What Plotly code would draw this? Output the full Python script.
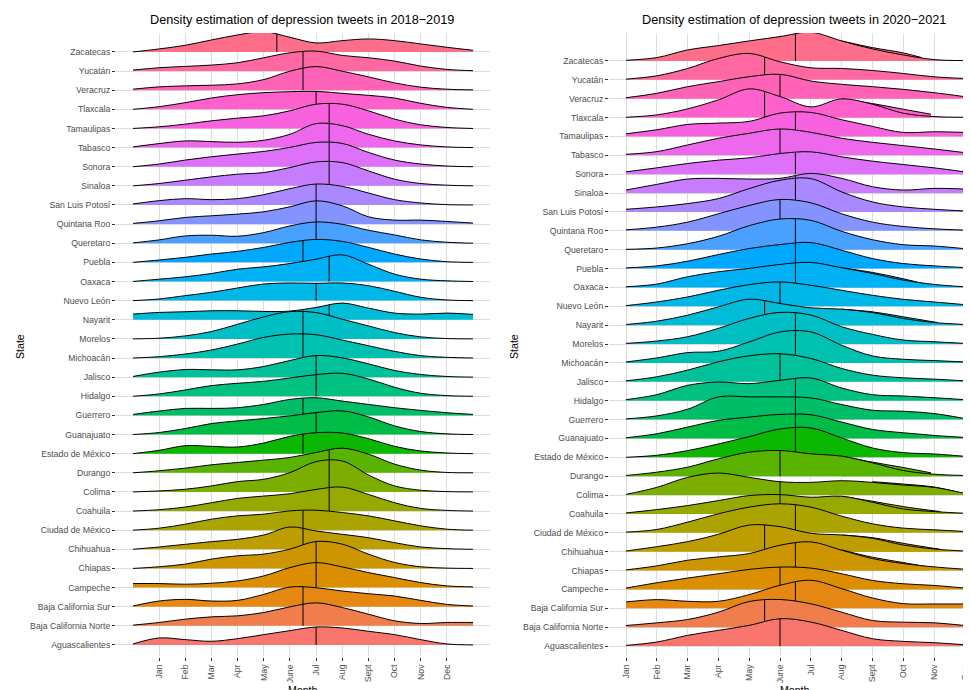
import math
import plotly.graph_objects as go

# ---------------- data ----------------
states = ["Aguascalientes", "Baja California Norte", "Baja California Sur", "Campeche",
          "Chiapas", "Chihuahua", "Ciudad de México", "Coahuila", "Colima", "Durango",
          "Estado de México", "Guanajuato", "Guerrero", "Hidalgo", "Jalisco", "Michoacán",
          "Morelos", "Nayarit", "Nuevo León", "Oaxaca", "Puebla", "Queretaro",
          "Quintana Roo", "San Luis Potosí", "Sinaloa", "Sonora", "Tabasco", "Tamaulipas",
          "Tlaxcala", "Veracruz", "Yucatán", "Zacatecas"]

month_ticks = [1, 2, 3, 4, 5, 6, 7, 8, 9, 10, 11, 12]
month_labels = ["Jan", "Feb", "Mar", "Apr", "May", "June", "Jul", "Aug", "Sept", "Oct", "Nov", "Dec"]

# 2018-2019: relative density read at month positions 0..13
x_2018 = [0, 1, 2, 3, 4, 5, 6, 7, 8, 9, 10, 11, 12, 13]
dens_2018 = [
    [3, 21, 16, 11, 19, 31, 43, 54, 51, 41, 31, 16, 3, 0],
    [2, 10, 20, 27, 30, 40, 57, 69, 55, 35, 15, 7, 10, 10],
    [2, 17, 22, 17, 19, 37, 59, 57, 47, 39, 32, 19, 7, 2],
    [12, 12, 10, 13, 20, 35, 60, 75, 62, 45, 30, 15, 5, 2],
    [0, 5, 13, 28, 38, 43, 58, 81, 73, 43, 18, 5, 1, 0],
    [0, 7, 15, 23, 30, 43, 67, 55, 45, 35, 20, 7, 2, 0],
    [0, 6, 18, 33, 43, 48, 58, 60, 53, 43, 28, 13, 3, 0],
    [0, 4, 12, 25, 38, 45, 52, 65, 72, 50, 25, 8, 2, 0],
    [0, 3, 8, 18, 31, 38, 58, 91, 93, 51, 18, 5, 1, 0],
    [0, 6, 14, 24, 31, 38, 46, 61, 74, 56, 26, 8, 1, 0],
    [0, 10, 24, 22, 20, 32, 52, 63, 62, 45, 22, 8, 2, 0],
    [0, 6, 18, 33, 41, 48, 56, 66, 71, 53, 26, 9, 2, 0],
    [3, 13, 21, 21, 23, 33, 48, 53, 43, 33, 23, 15, 8, 3],
    [0, 7, 19, 32, 39, 45, 55, 65, 69, 52, 27, 9, 2, 0],
    [2, 15, 23, 22, 22, 32, 50, 65, 58, 40, 20, 8, 2, 0],
    [0, 4, 12, 24, 42, 62, 72, 70, 54, 37, 20, 7, 2, 0],
    [0, 2, 9, 22, 44, 66, 82, 79, 59, 39, 19, 6, 1, 0],
    [17, 22, 24, 27, 27, 25, 26, 37, 50, 35, 20, 17, 20, 16],
    [0, 5, 15, 25, 38, 50, 53, 52, 53, 45, 28, 10, 2, 0],
    [0, 7, 14, 24, 37, 44, 54, 67, 80, 52, 22, 7, 2, 0],
    [0, 7, 15, 25, 33, 45, 60, 69, 63, 45, 25, 10, 2, 0],
    [1, 10, 22, 24, 21, 32, 52, 64, 57, 39, 25, 10, 3, 0],
    [2, 10, 20, 25, 30, 37, 52, 70, 55, 22, 12, 12, 8, 3],
    [3, 13, 19, 16, 19, 31, 49, 63, 56, 36, 16, 6, 1, 0],
    [0, 7, 17, 27, 35, 40, 55, 72, 70, 45, 20, 7, 2, 0],
    [0, 8, 20, 30, 38, 46, 58, 73, 70, 43, 20, 8, 2, 0],
    [2, 12, 20, 18, 16, 22, 40, 72, 66, 40, 20, 8, 2, 0],
    [0, 5, 13, 23, 31, 38, 53, 73, 73, 53, 28, 11, 3, 0],
    [0, 8, 20, 34, 44, 50, 53, 54, 48, 42, 34, 18, 6, 0],
    [3, 10, 13, 15, 19, 32, 57, 71, 57, 40, 22, 9, 3, 1],
    [3, 10, 14, 18, 25, 40, 55, 60, 47, 40, 30, 15, 5, 1],
    [0, 9, 20, 36, 51, 61, 44, 27, 34, 39, 34, 24, 14, 5],
]
median_2018 = [7.0, 6.5, 6.5, 7.0, 7.0, 6.5, 6.5, 7.5, 7.5, 7.5, 6.5, 7.0, 6.5, 7.0, 7.0, 6.5,
               6.5, 7.5, 7.0, 7.5, 6.5, 7.0, 7.0, 7.0, 7.5, 7.5, 7.5, 7.5, 7.0, 6.5, 6.5, 5.5]

# 2020-2021: relative density read at months 1..12
x_2020 = [1, 2, 3, 4, 5, 6, 7, 8, 9, 10, 11, 12]
dens_2020 = [
    [2, 12, 32, 47, 62, 82, 72, 47, 22, 14, 10, 4],
    [5, 13, 23, 45, 77, 83, 70, 45, 20, 15, 13, 5],
    [19, 26, 21, 21, 41, 69, 84, 59, 31, 14, 13, 13],
    [4, 20, 34, 47, 60, 67, 64, 47, 27, 17, 12, 4],
    [2, 14, 31, 41, 51, 76, 86, 61, 36, 21, 11, 4],
    [2, 15, 30, 52, 80, 75, 55, 50, 40, 20, 8, 2],
    [2, 10, 32, 57, 77, 87, 77, 50, 27, 14, 9, 4],
    [3, 13, 25, 40, 55, 58, 50, 53, 35, 15, 7, 2],
    [2, 23, 53, 66, 53, 40, 38, 43, 38, 30, 23, 5],
    [2, 12, 27, 52, 72, 77, 67, 60, 40, 17, 6, 2],
    [0, 6, 20, 40, 62, 85, 88, 58, 28, 14, 10, 3],
    [2, 14, 34, 54, 64, 72, 71, 49, 27, 17, 9, 3],
    [2, 11, 31, 68, 68, 68, 65, 45, 28, 25, 18, 3],
    [3, 18, 46, 56, 51, 61, 68, 38, 18, 14, 9, 3],
    [3, 15, 35, 60, 78, 84, 70, 40, 20, 12, 8, 3],
    [3, 15, 31, 35, 63, 93, 93, 53, 21, 11, 7, 3],
    [2, 9, 22, 47, 77, 95, 87, 52, 29, 12, 7, 2],
    [2, 12, 30, 55, 78, 65, 52, 48, 38, 20, 8, 2],
    [2, 13, 28, 48, 65, 73, 63, 48, 33, 21, 13, 5],
    [2, 10, 32, 47, 57, 69, 75, 59, 42, 22, 9, 2],
    [2, 8, 22, 42, 60, 72, 78, 55, 30, 15, 8, 3],
    [1, 5, 18, 40, 72, 92, 88, 55, 30, 15, 11, 3],
    [3, 11, 26, 51, 76, 94, 84, 51, 26, 13, 6, 2],
    [8, 15, 25, 40, 70, 95, 100, 60, 30, 15, 8, 3],
    [9, 26, 42, 44, 42, 44, 59, 44, 19, 9, 14, 12],
    [7, 19, 32, 42, 49, 62, 67, 52, 39, 29, 19, 7],
    [3, 11, 31, 51, 66, 79, 69, 51, 39, 29, 19, 8],
    [8, 20, 36, 40, 45, 70, 72, 50, 30, 12, 14, 12],
    [1, 8, 26, 53, 86, 63, 32, 56, 40, 13, 3, 1],
    [3, 16, 36, 51, 66, 73, 53, 43, 36, 28, 18, 6],
    [2, 12, 34, 64, 79, 54, 36, 34, 28, 19, 9, 4],
    [2, 10, 33, 46, 60, 73, 86, 60, 36, 18, 4, 1],
]
median_2020 = [6.0, 5.5, 6.5, 6.0, 6.5, 5.5, 6.5, 6.0, 6.0, 6.0, 6.5, 6.5, 6.5, 6.5, 6.0, 6.5,
               6.5, 5.5, 6.0, 6.5, 6.5, 6.5, 6.0, 6.5, 6.5, 6.5, 6.0, 6.5, 5.5, 6.0, 5.5, 6.5]

# second (shorter) density tails visible in the 2020-2021 panel
tail_states_2020 = ["Zacatecas", "Tlaxcala", "Oaxaca", "Nayarit", "Durango",
                    "Colima", "Coahuila", "Chihuahua", "Chiapas"]
tail_x_2020 = [
    [8, 9, 10, 10.6],
    [8, 9, 10, 10.9],
    [8, 9, 10, 10.75],
    [8, 9, 10, 11.1],
    [8, 9, 10, 10.9],
    [9, 10, 11, 11.8],
    [8, 9, 10, 11.2],
    [8, 9, 10, 11.2],
    [8, 9, 10, 10.85],
]
tail_dens_2020 = [
    [60, 40, 24, 10],
    [56, 42, 25, 10],
    [59, 45, 26, 9],
    [48, 40, 25, 8],
    [60, 42, 26, 10],
    [40, 33, 24, 8],
    [53, 38, 22, 7],
    [50, 42, 25, 7],
    [62, 40, 24, 10],
]

# ---------------- styling / layout constants ----------------
# the page body adds an 8px margin; all pixel positions below are page pixels
OFF = 8
W, H = 971 - OFF, 690 - OFF
PANEL_TOP, PANEL_BOT = 33, 657
L_X0, L_X1 = 116, 490
R_X0, R_X1 = 609, 971
XR_L = [-0.65, 13.65]
YR_L = [-0.63, 31.99]
XR_R = [0.448, 12.2]
YR_R = [-0.58, 32.48]
SCALE_L = 1 / 57.5   # rows per density unit
SCALE_R = 1 / 56.6
FONT = "Liberation Sans, Arial, Helvetica, sans-serif"
GRID = "#DCDCDC"
TXT = "#4D4D4D"


def px_x(p):
    return (p - OFF) / W


def px_y(p):
    return 1 - (p - OFF) / H


def hcl_hex(h, c=100.0, l=65.0):
    hr = math.radians(h)
    U, V = c * math.cos(hr), c * math.sin(hr)
    Y = ((l + 16) / 116) ** 3 if l > 7.999592 else l / 903.3
    u = U / (13 * l) + 0.1978398
    v = V / (13 * l) + 0.4683363
    X = 9.0 * Y * u / (4 * v)
    Z = -X / 3 - 5 * Y + 3 * Y / v

    def g(t):
        t = 1.055 * t ** (1 / 2.4) - 0.055 if t > 0.00304 else 12.92 * t
        return min(1.0, max(0.0, t))
    r = g(3.240479 * X - 1.537150 * Y - 0.498535 * Z)
    gg = g(-0.969256 * X + 1.875992 * Y + 0.041556 * Z)
    b = g(0.055648 * X - 0.204043 * Y + 1.057311 * Z)
    return "#%02X%02X%02X" % (int(255 * r + 0.5), int(255 * gg + 0.5), int(255 * b + 0.5))


n = len(states)
colors = [hcl_hex(15 + 360.0 * i / n) for i in range(n)]


# plotly's spline (smoothopen) evaluated in pixel space to find curve height at the median
def _tangent(p0, p1, p2, s=1.0):
    d1x, d1y = p0[0] - p1[0], p0[1] - p1[1]
    d2x, d2y = p2[0] - p1[0], p2[1] - p1[1]
    d1a = (d1x * d1x + d1y * d1y) ** 0.25
    d2a = (d2x * d2x + d2y * d2y) ** 0.25
    numx = (d2a * d2a * d1x - d1a * d1a * d2x) * s
    numy = (d2a * d2a * d1y - d1a * d1a * d2y) * s
    den1 = 3 * d2a * (d1a + d2a)
    den2 = 3 * d1a * (d1a + d2a)
    return ((p1[0] + (numx / den1 if den1 else 0), p1[1] + (numy / den1 if den1 else 0)),
            (p1[0] - (numx / den2 if den2 else 0), p1[1] - (numy / den2 if den2 else 0)))


def spline_height(xs, ys, xq, sx, sy):
    pts = [(x * sx, y * sy) for x, y in zip(xs, ys)]
    m = len(pts)
    tans = [_tangent(pts[i - 1], pts[i], pts[i + 1]) for i in range(1, m - 1)]

    def q2c(a, q, b):
        return (a, (a[0] + 2 / 3 * (q[0] - a[0]), a[1] + 2 / 3 * (q[1] - a[1])),
                (b[0] + 2 / 3 * (q[0] - b[0]), b[1] + 2 / 3 * (q[1] - b[1])), b)
    segs = [q2c(pts[0], tans[0][0], pts[1])]
    for i in range(2, m - 1):
        segs.append((pts[i - 1], tans[i - 2][1], tans[i - 1][0], pts[i]))
    segs.append(q2c(pts[m - 2], tans[m - 3][1], pts[m - 1]))
    xp = xq * sx

    def bez(sg, t, k):
        mt = 1 - t
        return (mt ** 3 * sg[0][k] + 3 * mt * mt * t * sg[1][k] +
                3 * mt * t * t * sg[2][k] + t ** 3 * sg[3][k])
    for sg in segs:
        if sg[0][0] <= xp <= sg[3][0]:
            lo, hi = 0.0, 1.0
            for _ in range(60):
                mid = (lo + hi) / 2
                if bez(sg, mid, 0) < xp:
                    lo = mid
                else:
                    hi = mid
            return bez(sg, (lo + hi) / 2, 1) / sy
    return 0.0


fig = go.Figure()


def add_ridge(xs, hs, base, color, xa, ya, scale):
    top = [base + h * scale for h in hs]
    fig.add_trace(go.Scatter(x=xs, y=[base] * len(xs), mode="lines",
                             line=dict(width=0, color="rgba(0,0,0,0)"),
                             hoverinfo="skip", showlegend=False, xaxis=xa, yaxis=ya))
    fig.add_trace(go.Scatter(x=xs, y=top, mode="lines", fill="tonexty", fillcolor=color,
                             line=dict(color="black", width=1, shape="spline", simplify=False),
                             hoverinfo="skip", showlegend=False, xaxis=xa, yaxis=ya))
    return top


def panel(xs, dens, medians, scale, xa, ya, xr, yr, px0, px1, tails=None):
    sx = (px1 - px0) / (xr[1] - xr[0])
    sy = (PANEL_BOT - PANEL_TOP) / (yr[1] - yr[0])
    for i in range(n - 1, -1, -1):
        base = i
        if tails and states[i] in tails[0]:
            k = tails[0].index(states[i])
            add_ridge(tails[1][k], tails[2][k], base, colors[i], xa, ya, scale)
        top = add_ridge(xs, dens[i], base, colors[i], xa, ya, scale)
        hm = spline_height(xs, top, medians[i], sx, sy)
        fig.add_trace(go.Scatter(x=[medians[i], medians[i]], y=[base, hm], mode="lines",
                                 line=dict(color="black", width=1),
                                 hoverinfo="skip", showlegend=False, xaxis=xa, yaxis=ya))


panel(x_2018, dens_2018, median_2018, SCALE_L, "x", "y", XR_L, YR_L, L_X0, L_X1)
panel(x_2020, dens_2020, median_2020, SCALE_R, "x2", "y2", XR_R, YR_R, R_X0, R_X1,
      tails=(tail_states_2020, tail_x_2020, tail_dens_2020))

ydom = [px_y(PANEL_BOT), px_y(PANEL_TOP)]
xcommon = dict(tickmode="array", tickvals=month_ticks, ticktext=month_labels, tickangle=-90,
               showgrid=True, gridcolor=GRID, gridwidth=1, zeroline=False, showline=False,
               ticks="outside", ticklen=3, tickcolor="#333333", tickwidth=1,
               tickfont=dict(family=FONT, size=8.7, color=TXT))
ycommon = dict(tickmode="array", tickvals=list(range(n)), ticktext=states,
               showgrid=True, gridcolor=GRID, gridwidth=1, zeroline=False, showline=False,
               ticks="outside", ticklen=3, tickcolor="#333333", tickwidth=1,
               tickfont=dict(family=FONT, size=8.7, color=TXT))


def ann(text, x, y, size, angle=0, yanchor="middle"):
    return dict(text=text, x=px_x(x), y=px_y(y), xref="paper", yref="paper", showarrow=False,
                xanchor="center", yanchor=yanchor, textangle=angle,
                font=dict(family=FONT, size=size, color="black"))


fig.update_layout(
    width=W, height=H,
    margin=dict(l=0, r=0, t=0, b=0),
    paper_bgcolor="white", plot_bgcolor="white",
    font=dict(family=FONT, color="black"),
    xaxis=dict(domain=[px_x(L_X0), px_x(L_X1)], range=XR_L, anchor="y", **xcommon),
    yaxis=dict(domain=ydom, range=YR_L, anchor="x", **ycommon),
    xaxis2=dict(domain=[px_x(R_X0), 1.0], range=XR_R, anchor="y2", **xcommon),
    yaxis2=dict(domain=ydom, range=YR_R, anchor="x2", **ycommon),
    annotations=[
        ann("Density estimation of depression tweets in 2018−2019", 302, 20, 12.7),
        ann("Density estimation of depression tweets in 2020−2021", 794, 20, 12.7),
        ann("Month", 303, 682, 10.6, yanchor="top"),
        ann("Month", 795, 682, 10.6, yanchor="top"),
        ann("State", 20, 347, 10.6, angle=-90),
        ann("State", 514, 347, 10.6, angle=-90),
    ],
)

fig.write_html("out.html")
